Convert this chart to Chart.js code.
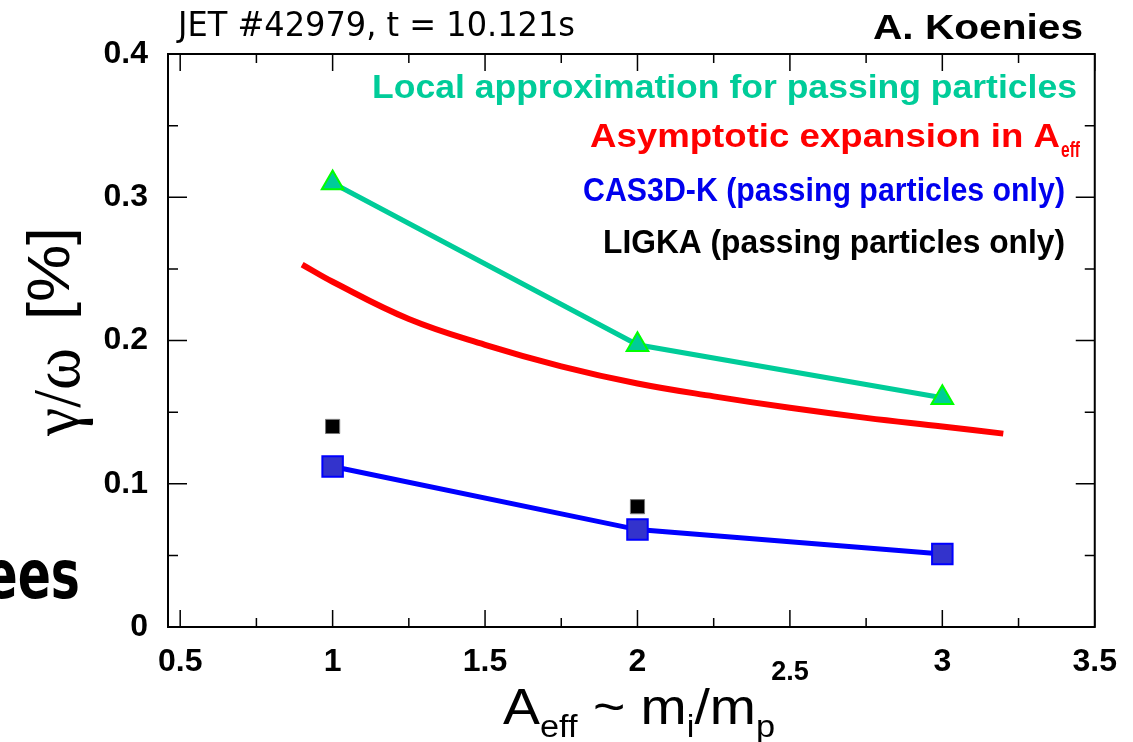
<!DOCTYPE html>
<html>
<head>
<meta charset="utf-8">
<script src="https://cdn.jsdelivr.net/npm/chart.js@4.4.1/dist/chart.umd.min.js"></script>
<style>
  html, body { margin: 0; padding: 0; background: #fff; }
  #wrap { width: 1133px; height: 742px; }
</style>
</head>
<body>
<div id="wrap"><canvas id="growthChart" width="1133" height="742"></canvas></div>
<script>
// Dämpfungsrate gamma/omega über effektive Masse
const aeff = [1, 2, 3];
const localApprox = [0.310, 0.197, 0.160];
const cas3dk = [0.112, 0.068, 0.051];
const ligkaAeff = [1, 2];
const ligka = [0.140, 0.084];

const asymAeff = [0.9, 1.0, 1.25, 1.5, 1.75, 2.0, 2.25, 2.5, 2.75, 3.0, 3.2];
const asymGamma = [0.253, 0.241, 0.215, 0.197, 0.182, 0.170, 0.161, 0.153, 0.146, 0.140, 0.135];

// Achsenteilung
const xTicks = [0.5, 1, 1.5, 2, 2.5, 3, 3.5];
const xMinor = [0.75, 1.25, 1.75, 2.25, 2.75, 3.25];
const yTicks = [0, 0.1, 0.2, 0.3, 0.4];
const yMinor = [0.05, 0.15, 0.25, 0.35];

function toPoints(xs, ys) {
    return xs.map((x, i) => ({ x: x, y: ys[i] }));
}

// Text auf feste Breite strecken
function fitText(ctx, text, x0, x1, baseline, font, color) {
    ctx.save();
    ctx.font = font;
    ctx.fillStyle = color;
    ctx.textAlign = 'left';
    ctx.textBaseline = 'alphabetic';
    const w = ctx.measureText(text).width;
    ctx.translate(x0, baseline);
    ctx.scale((x1 - x0) / w, 1);
    ctx.fillText(text, 0, 0);
    ctx.restore();
}

// Rahmen mit Ticks nach innen, auf allen vier Seiten
const framePlugin = {
    id: 'frame',
    afterDatasetsDraw(chart) {
        const ctx = chart.ctx;
        const a = chart.chartArea;
        const xs = chart.scales.x;
        const ys = chart.scales.y;
        ctx.save();
        ctx.strokeStyle = '#000';
        ctx.lineWidth = 2;
        ctx.strokeRect(a.left, a.top, a.right - a.left, a.bottom - a.top);
        ctx.lineWidth = 1.5;
        ctx.beginPath();
        const tickX = (v, len) => {
            const px = xs.getPixelForValue(v);
            ctx.moveTo(px, a.bottom); ctx.lineTo(px, a.bottom - len);
            ctx.moveTo(px, a.top); ctx.lineTo(px, a.top + len);
        };
        const tickY = (v, len) => {
            const py = ys.getPixelForValue(v);
            ctx.moveTo(a.left, py); ctx.lineTo(a.left + len, py);
            ctx.moveTo(a.right, py); ctx.lineTo(a.right - len, py);
        };
        xTicks.forEach(v => tickX(v, 17));
        xMinor.forEach(v => tickX(v, 9));
        yTicks.forEach(v => tickY(v, 19));
        yMinor.forEach(v => tickY(v, 10));
        ctx.stroke();
        ctx.restore();
    }
};

// Beschriftungen: Kopfzeile, Legende, Achsentitel
const labelPlugin = {
    id: 'labels',
    afterDraw(chart) {
        const ctx = chart.ctx;

        fitText(ctx, 'JET #42979, t = 10.121s', 178, 575, 36, '33px "DejaVu Sans"', '#000');
        fitText(ctx, 'A. Koenies', 873, 1083, 39, 'bold 35px "Liberation Sans"', '#000');

        // Rest eines Folientitels am linken Rand
        ctx.save();
        ctx.font = 'bold 68px "DejaVu Sans"';
        ctx.fillStyle = '#000';
        ctx.textAlign = 'right';
        ctx.translate(80, 598);
        ctx.scale(0.72, 1);
        ctx.fillText('ees', 0, 0);
        ctx.restore();

        const legFont = 'bold 34px "Liberation Sans"';
        fitText(ctx, 'Local approximation for passing particles', 372, 1077, 98, legFont, '#00CC99');
        fitText(ctx, 'Asymptotic expansion in A', 590, 1060, 147, legFont, '#FF0000');
        fitText(ctx, 'eff', 1061, 1080, 157, 'bold 22px "Liberation Sans"', '#FF0000');
        fitText(ctx, 'CAS3D-K (passing particles only)', 583, 1065, 201, legFont, '#0000EE');
        fitText(ctx, 'LIGKA (passing particles only)', 603, 1065, 253, legFont, '#000');

        // y-Titel, gedreht
        ctx.save();
        ctx.translate(79, 436);
        ctx.rotate(-Math.PI / 2);
        fitText(ctx, 'γ/ω', 0, 88, 0, '68px "Liberation Serif"', '#000');
        ctx.restore();
        ctx.save();
        ctx.translate(69, 320);
        ctx.rotate(-Math.PI / 2);
        fitText(ctx, '[%]', 0, 93, 0, '60px "Liberation Sans"', '#000');
        ctx.restore();

        // x-Titel mit Indizes
        const main = '50px "Liberation Sans Narrow", "Liberation Sans"';
        const sub = '31px "Liberation Sans Narrow", "Liberation Sans"';
        const parts = [
            ['A', main, 0], ['eff', sub, 13], [' ~ m', main, 0],
            ['i', sub, 13], ['/m', main, 0], ['p', sub, 13]
        ];
        let total = 0;
        parts.forEach(p => { ctx.font = p[1]; total += ctx.measureText(p[0]).width; });
        const sx = (775 - 503) / total;
        ctx.save();
        ctx.fillStyle = '#000';
        ctx.translate(503, 724);
        ctx.scale(sx, 1);
        let cx = 0;
        parts.forEach(p => {
            ctx.font = p[1];
            ctx.fillText(p[0], cx, p[2]);
            cx += ctx.measureText(p[0]).width;
        });
        ctx.restore();
    }
};

const ctx = document.getElementById('growthChart').getContext('2d');

const chart = new Chart(ctx, {
    type: 'scatter',
    data: {
        datasets: [
            {
                label: 'Local approximation for passing particles',
                data: toPoints(aeff, localApprox),
                showLine: true,
                borderColor: '#00CC99',
                borderWidth: 5,
                pointStyle: 'triangle',
                pointRadius: 12.5,
                pointBackgroundColor: '#00CC99',
                pointBorderColor: '#00FF00',
                pointBorderWidth: 2,
                order: 1
            },
            {
                label: 'CAS3D-K (passing particles only)',
                data: toPoints(aeff, cas3dk),
                showLine: true,
                borderColor: '#0000FF',
                borderWidth: 5,
                pointStyle: 'rect',
                pointRadius: 14.5,
                pointBackgroundColor: '#3333CC',
                pointBorderColor: '#0000FF',
                pointBorderWidth: 2,
                order: 2
            },
            {
                label: 'LIGKA (passing particles only)',
                data: toPoints(ligkaAeff, ligka),
                showLine: false,
                pointStyle: 'rect',
                pointRadius: 10,
                pointBackgroundColor: '#000',
                pointBorderColor: '#777',
                pointBorderWidth: 1,
                order: 3
            },
            {
                label: 'Asymptotic expansion in Aeff',
                data: toPoints(asymAeff, asymGamma),
                showLine: true,
                borderColor: '#FF0000',
                borderWidth: 6,
                pointRadius: 0,
                tension: 0.4,
                order: 4
            }
        ]
    },
    options: {
        responsive: false,
        animation: false,
        devicePixelRatio: 1,
        layout: {
            padding: { top: 54, right: 37, left: 0, bottom: 0 }
        },
        plugins: {
            legend: { display: false },
            tooltip: { enabled: false }
        },
        scales: {
            x: {
                type: 'linear',
                min: 0.46,
                max: 3.5,
                afterBuildTicks: function (scale) {
                    scale.ticks = xTicks.map(v => ({ value: v }));
                },
                afterFit: function (scale) {
                    scale.height = 115;
                },
                grid: { display: false, drawTicks: false },
                border: { display: false },
                ticks: {
                    padding: 16,
                    color: '#000',
                    maxRotation: 0,
                    autoSkip: false,
                    font: function (context) {
                        if (context.tick && context.tick.value === 2.5) {
                            return { family: 'Liberation Sans', size: 27, weight: 'bold', lineHeight: 0.74 };
                        }
                        return { family: 'Liberation Sans', size: 32, weight: 'bold' };
                    },
                    callback: function (value) {
                        return value === 2.5 ? ['', '2.5'] : String(value);
                    }
                }
            },
            y: {
                type: 'linear',
                min: 0,
                max: 0.4,
                afterBuildTicks: function (scale) {
                    scale.ticks = yTicks.map(v => ({ value: v }));
                },
                afterFit: function (scale) {
                    scale.width = 168;
                },
                grid: { display: false, drawTicks: false },
                border: { display: false },
                ticks: {
                    padding: 20,
                    color: '#000',
                    font: { family: 'Liberation Sans', size: 32, weight: 'bold' },
                    callback: function (value) {
                        return value === 0 ? '0' : value.toFixed(1);
                    }
                }
            }
        }
    },
    plugins: [framePlugin, labelPlugin]
});
</script>
</body>
</html>
